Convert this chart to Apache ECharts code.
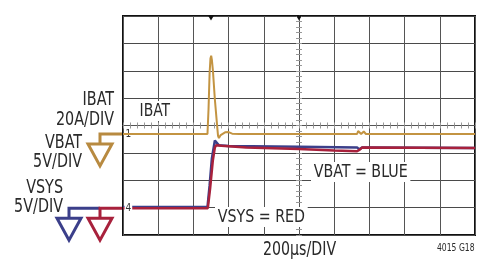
<!DOCTYPE html>
<html>
<head>
<meta charset="utf-8">
<script src="https://cdn.jsdelivr.net/npm/echarts@6/dist/echarts.min.js"></script>
<style>
html, body { margin: 0; padding: 0; background: #fff; }
#chart { width: 490px; height: 260px; }
</style>
</head>
<body>
<div id="chart"></div>
<script>
// time in µs (200µs/DIV, trigger at centre), values in divisions
var ibatT = [-1000, -520, -514, -508, -503, -499, -495, -489, -478, -466, -460, -455, -445, -420, -400, -380, -340, 0, 330, 336, 341, 347, 353, 362, 368, 373, 380, 1000];
var ibatV = [-0.31, -0.31, 0.6, 1.9, 2.45, 2.55, 2.4, 2.0, 0.95, 0.05, -0.38, -0.46, -0.35, -0.25, -0.24, -0.3, -0.31, -0.31, -0.31, -0.2, -0.13, -0.22, -0.31, -0.3, -0.22, -0.2, -0.31, -0.31];

var vbatT = [-1000, -520, -508, -495, -478, -470, -455, -400, 0, 330, 342, 360, 1000];
var vbatV = [-2.98, -2.98, -2.2, -1.2, -0.55, -0.6, -0.72, -0.75, -0.78, -0.8, -0.87, -0.8, -0.82];

var vsysT = [-1000, -518, -505, -490, -478, -470, -440, -300, 0, 200, 330, 345, 360, 1000];
var vsysV = [-3.02, -3.02, -2.3, -1.3, -0.8, -0.72, -0.74, -0.8, -0.86, -0.91, -0.94, -0.88, -0.8, -0.82];

var markerPos = [[-1000, ibatV[0], '1'], [-1000, vsysV[0], '4']];
var triggerPos = [-500, 0];

var FONT = "'Liberation Sans Narrow', 'DejaVu Sans Condensed', 'Roboto', sans-serif";
var ORANGE = '#c39442', ORANGE_GND = '#b88a40', BLUE = '#3b3f8a', RED = '#a8213c';

function pairs(t, v) {
	var out = [];
	for (var i = 0; i < t.length; i++) out.push([t[i], v[i]]);
	return out;
}

function centreAxis(dim, pos) {
	var a = {
		type: 'value',
		position: pos,
		axisLine: { onZero: true, lineStyle: { color: '#555', width: 1 } },
		axisTick: { show: true, length: 3, lineStyle: { color: '#999' } },
		minorTick: { show: true, splitNumber: 5, length: 3, lineStyle: { color: '#999' } },
		splitLine: { show: false },
		axisLabel: { show: false }
	};
	if (dim == 'x') { a.min = -1000; a.max = 1000; a.interval = 200; }
	else { a.min = -4; a.max = 4; a.interval = 1; }
	return a;
}

var xMain = centreAxis('x', 'bottom');
xMain.splitLine = { show: true, lineStyle: { color: '#555', width: 1 } };
var yMain = centreAxis('y', 'left');
yMain.splitLine = { show: true, lineStyle: { color: '#4a4a4a', width: 1 } };

var option = {
	animation: false,
	backgroundColor: '#fff',
	grid: { left: 123, top: 16, width: 352, height: 219, show: true, borderColor: '#111', borderWidth: 2, backgroundColor: '#fff' },
	xAxis: [xMain, centreAxis('x', 'top')],
	yAxis: [yMain, centreAxis('y', 'right')],
	series: [
		{
			name: 'VBAT', type: 'line', data: pairs(vbatT, vbatV), showSymbol: false, z: 3,
			lineStyle: { color: BLUE, width: 2.5 }
		},
		{
			name: 'VSYS', type: 'line', data: pairs(vsysT, vsysV), showSymbol: false, z: 4,
			lineStyle: { color: RED, width: 2.5 }
		},
		{
			name: 'IBAT', type: 'line', data: pairs(ibatT, ibatV), showSymbol: false, z: 5,
			lineStyle: { color: ORANGE, width: 2 },
			markPoint: {
				silent: true,
				data: markerPos.map(function (m) {
					return {
						coord: [m[0], m[1]], symbol: 'rect', symbolSize: 1,
						itemStyle: { color: 'rgba(0,0,0,0)' },
						label: { show: true, formatter: m[2], position: 'right', distance: 1, fontSize: 10, color: '#333', fontFamily: FONT, backgroundColor: '#fff', padding: [0, 1] }
					};
				}).concat(triggerPos.map(function (t) {
					return {
						coord: [t, 4], symbol: 'triangle', symbolRotate: 180, symbolSize: [6, 5], symbolOffset: [0, 2],
						itemStyle: { color: '#111' }, label: { show: false }
					};
				}))
			}
		}
	]
};

var chart = echarts.init(document.getElementById('chart'), null, { renderer: 'canvas' });
chart.setOption(option);

// ground symbols and captions, hooked onto the trace levels
var yI = chart.convertToPixel({ yAxisIndex: 0 }, ibatV[0]);
var yS = chart.convertToPixel({ yAxisIndex: 0 }, vsysV[0]);

// the fonts here are wider than the condensed original, so squeeze them a little
function txt(x, y, s, size, align, sx) {
	return {
		type: 'text', x: x, y: y, z: 50, scaleX: sx || 0.84,
		style: { x: 0, y: 0, text: s, fontSize: size, fontFamily: FONT, fill: '#2a2a2a', align: align || 'left', verticalAlign: 'middle' }
	};
}
function boxTxt(x, y, s, size, sx) {
	var t = txt(x, y, s, size, 'left', sx);
	t.style.backgroundColor = '#fff';
	t.style.padding = [1, 3];
	return t;
}
function wire(pts, color) {
	return { type: 'polyline', z: 40, shape: { points: pts }, style: { stroke: color, lineWidth: 3, fill: null, lineJoin: 'miter' } };
}
function tri(xl, xr, top, bot, color) {
	var xm = (xl + xr) / 2;
	return { type: 'polygon', z: 40, shape: { points: [[xl, top], [xr, top], [xm, bot]] }, style: { stroke: color, lineWidth: 3, fill: null, lineJoin: 'miter' } };
}

chart.setOption({
	graphic: [
		wire([[122, yI], [100, yI], [100, yI + 10]], ORANGE_GND),
		tri(88, 112, yI + 10, yI + 32, ORANGE_GND),
		wire([[100, yS], [69, yS], [69, yS + 10]], BLUE),
		tri(57, 81, yS + 10, yS + 32, BLUE),
		wire([[122, yS], [100, yS], [100, yS + 10]], RED),
		tri(88, 112, yS + 10, yS + 32, RED),
		txt(114, 100, 'IBAT', 19, 'right'),
		txt(114, 120, '20A/DIV', 19, 'right'),
		txt(82, 143, 'VBAT', 19, 'right'),
		txt(82, 162, '5V/DIV', 19, 'right'),
		txt(63, 188, 'VSYS', 19, 'right'),
		txt(63, 207, '5V/DIV', 19, 'right'),
		boxTxt(137, 111, 'IBAT', 18, 0.86),
		boxTxt(311, 172, 'VBAT = BLUE', 18, 0.88),
		boxTxt(215, 217, 'VSYS = RED', 18, 0.88),
		txt(263, 250, '200µs/DIV', 19, 'left', 0.83),
		txt(437, 248, '4015 G18', 10, 'left', 0.85)
	]
});
</script>
</body>
</html>
